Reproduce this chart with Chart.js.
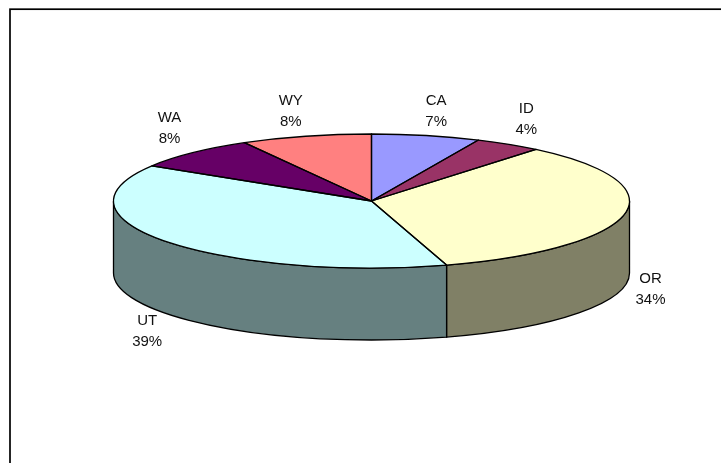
<!DOCTYPE html>
<html>
<head>
<meta charset="utf-8">
<style>html,body{margin:0;padding:0;background:#fff}canvas{display:block}</style>
<script src="https://cdn.jsdelivr.net/npm/chart.js@4/dist/chart.umd.min.js"></script>
</head>
<body>
<canvas id="c" width="721" height="463"></canvas>
<script>
const categories = ["CA", "ID", "OR", "UT", "WA", "WY"];
const shares = [6.8, 4.2, 34.3, 38.5, 8.0, 8.2];
const percentLabels = ["7%", "4%", "34%", "39%", "8%", "8%"];
const topColors = ["#9999FF", "#993366", "#FFFFCC", "#CCFFFF", "#660066", "#FF8080"];
const wallColors = ["#4C4C80", "#4C1933", "#808066", "#668080", "#330033", "#804040"];
const labelOffsets = [[10, -24], [18, -25], [26, 75], [-20, 89], [-23, -24], [-15, -25]];

const TILT = 67 / 258, DEPTH = 72;

function tilt(ctx, a) {
  ctx.translate(a.x, a.y);
  ctx.scale(1, TILT);
  ctx.translate(-a.x, -a.y);
}

const pie3d = {
  id: "pie3d",
  beforeDraw(chart) {
    const ctx = chart.ctx;
    ctx.save();
    ctx.fillStyle = "#fff";
    ctx.fillRect(0, 0, chart.width, chart.height);
    ctx.strokeStyle = "#000";
    ctx.lineWidth = 1.7;
    ctx.strokeRect(10, 9.2, 760, 500);
    ctx.restore();
  },
  beforeDatasetsDraw(chart) {
    const ctx = chart.ctx;
    const arcs = chart.getDatasetMeta(0).data;
    ctx.save();
    ctx.strokeStyle = "#000";
    ctx.lineWidth = 1.3;
    arcs.forEach((a, i) => {
      const from = Math.max(a.startAngle, 0), to = Math.min(a.endAngle, Math.PI);
      if (to <= from) return;
      const ry = a.outerRadius * TILT;
      ctx.beginPath();
      ctx.ellipse(a.x, a.y, a.outerRadius, ry, 0, from, to);
      ctx.ellipse(a.x, a.y + DEPTH, a.outerRadius, ry, 0, to, from, true);
      ctx.closePath();
      ctx.fillStyle = wallColors[i];
      ctx.fill();
      ctx.stroke();
    });
    ctx.restore();
    ctx.save();
    tilt(ctx, arcs[0]);
  },
  afterDatasetsDraw(chart) {
    const ctx = chart.ctx;
    ctx.restore();
    const arcs = chart.getDatasetMeta(0).data;
    ctx.save();
    ctx.strokeStyle = "#000";
    ctx.lineWidth = 1.3;
    ctx.lineJoin = "round";
    arcs.forEach(a => {
      ctx.beginPath();
      ctx.moveTo(a.x, a.y);
      ctx.ellipse(a.x, a.y, a.outerRadius, a.outerRadius * TILT, 0, a.startAngle, a.endAngle);
      ctx.closePath();
      ctx.stroke();
    });
    ctx.fillStyle = "#111";
    ctx.font = "15px 'Liberation Sans', Arial, sans-serif";
    ctx.textAlign = "center";
    ctx.textBaseline = "middle";
    arcs.forEach((a, i) => {
      const mid = (a.startAngle + a.endAngle) / 2;
      const x = a.x + a.outerRadius * Math.cos(mid) + labelOffsets[i][0];
      const y = a.y + a.outerRadius * TILT * Math.sin(mid) + labelOffsets[i][1];
      ctx.fillText(categories[i], x, y - 10.5);
      ctx.fillText(percentLabels[i], x, y + 10.5);
    });
    ctx.restore();
  }
};

new Chart(document.getElementById("c"), {
  type: "pie",
  data: {
    labels: categories,
    datasets: [{
      data: shares,
      backgroundColor: topColors,
      borderWidth: 0,
      clip: false
    }]
  },
  options: {
    responsive: false,
    animation: false,
    events: [],
    radius: 258,
    layout: { padding: { left: 22, right: 0, top: 0, bottom: 61 } },
    plugins: { legend: { display: false }, tooltip: { enabled: false } }
  },
  plugins: [pie3d]
});
</script>
</body>
</html>
